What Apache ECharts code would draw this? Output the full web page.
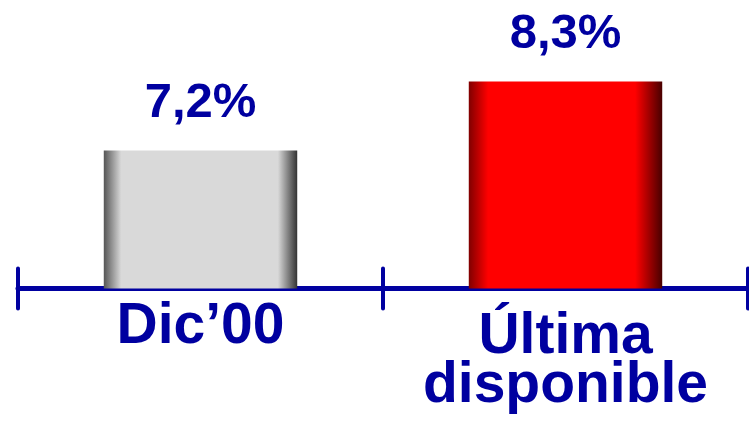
<!DOCTYPE html>
<html>
<head>
<meta charset="utf-8">
<script src="https://cdn.jsdelivr.net/npm/echarts@6/dist/echarts.min.js"></script>
<style>
  html, body { margin: 0; padding: 0; background: #fff; }
  #chart { width: 749px; height: 421px; }
</style>
</head>
<body>
<div id="chart"></div>
<script>
var categories = ['Dic’00', 'Última\ndisponible'];
var values = [7.2, 8.3];

var blue = '#0000A0';

var myChart = echarts.init(document.getElementById('chart'));

// degradado horizontal de cada barra
var barColors = [
    new echarts.graphic.LinearGradient(0, 0, 1, 0, [
        { offset: 0, color: '#555555' },
        { offset: 0.09, color: '#d9d9d9' },
        { offset: 0.9, color: '#d9d9d9' },
        { offset: 1, color: '#333333' }
    ]),
    new echarts.graphic.LinearGradient(0, 0, 1, 0, [
        { offset: 0, color: '#800000' },
        { offset: 0.1, color: '#ff0000' },
        { offset: 0.86, color: '#ff0000' },
        { offset: 1, color: '#480000' }
    ])
];

var font = 'Liberation Sans, Arial';

var option = {
    animation: false,
    grid: {
        left: 18,
        right: 1,
        top: 0,
        bottom: 132.5
    },
    xAxis: [
        {
            type: 'category',
            data: categories,
            axisLine: { show: true, lineStyle: { color: blue, width: 5 } },
            axisTick: { show: true, inside: false, length: 20, lineStyle: { color: blue, width: 4, cap: 'round' } },
            axisLabel: {
                interval: 0,
                margin: 15,
                color: blue,
                fontFamily: font,
                fontWeight: 'bold',
                fontSize: 57,
                formatter: function (v) {
                    if (v.indexOf('\n') >= 0) {
                        var parts = v.split('\n');
                        return '{c|' + parts[0] + '}\n{b|' + parts[1] + '}';
                    }
                    return '{a|' + v + '}';
                },
                rich: {
                    a: { lineHeight: 47, fontSize: 57, fontWeight: 'bold', color: blue, fontFamily: font },
                    c: { lineHeight: 67, fontSize: 57, fontWeight: 'bold', color: blue, fontFamily: font },
                    b: { lineHeight: 31, fontSize: 57, fontWeight: 'bold', color: blue, fontFamily: font }
                }
            }
        },
        {
            // segunda capa solo para las marcas hacia arriba
            type: 'category',
            data: categories,
            position: 'bottom',
            axisLine: { show: false },
            axisTick: { show: true, inside: true, length: 20, lineStyle: { color: blue, width: 4, cap: 'round' } },
            axisLabel: { show: false }
        }
    ],
    yAxis: {
        type: 'value',
        min: 5,
        max: 9.6,
        show: false,
        splitLine: { show: false }
    },
    series: [
        {
            type: 'bar',
            barWidth: '53%',
            data: values.map(function (v, i) {
                return { value: v, itemStyle: { color: barColors[i] } };
            }),
            label: {
                show: true,
                position: 'top',
                distance: 23,
                color: blue,
                fontFamily: font,
                fontWeight: 'bold',
                fontSize: 49,
                formatter: function (p) {
                    return p.value.toFixed(1).replace('.', ',') + '%';
                }
            }
        }
    ]
};

myChart.setOption(option);
</script>
</body>
</html>
